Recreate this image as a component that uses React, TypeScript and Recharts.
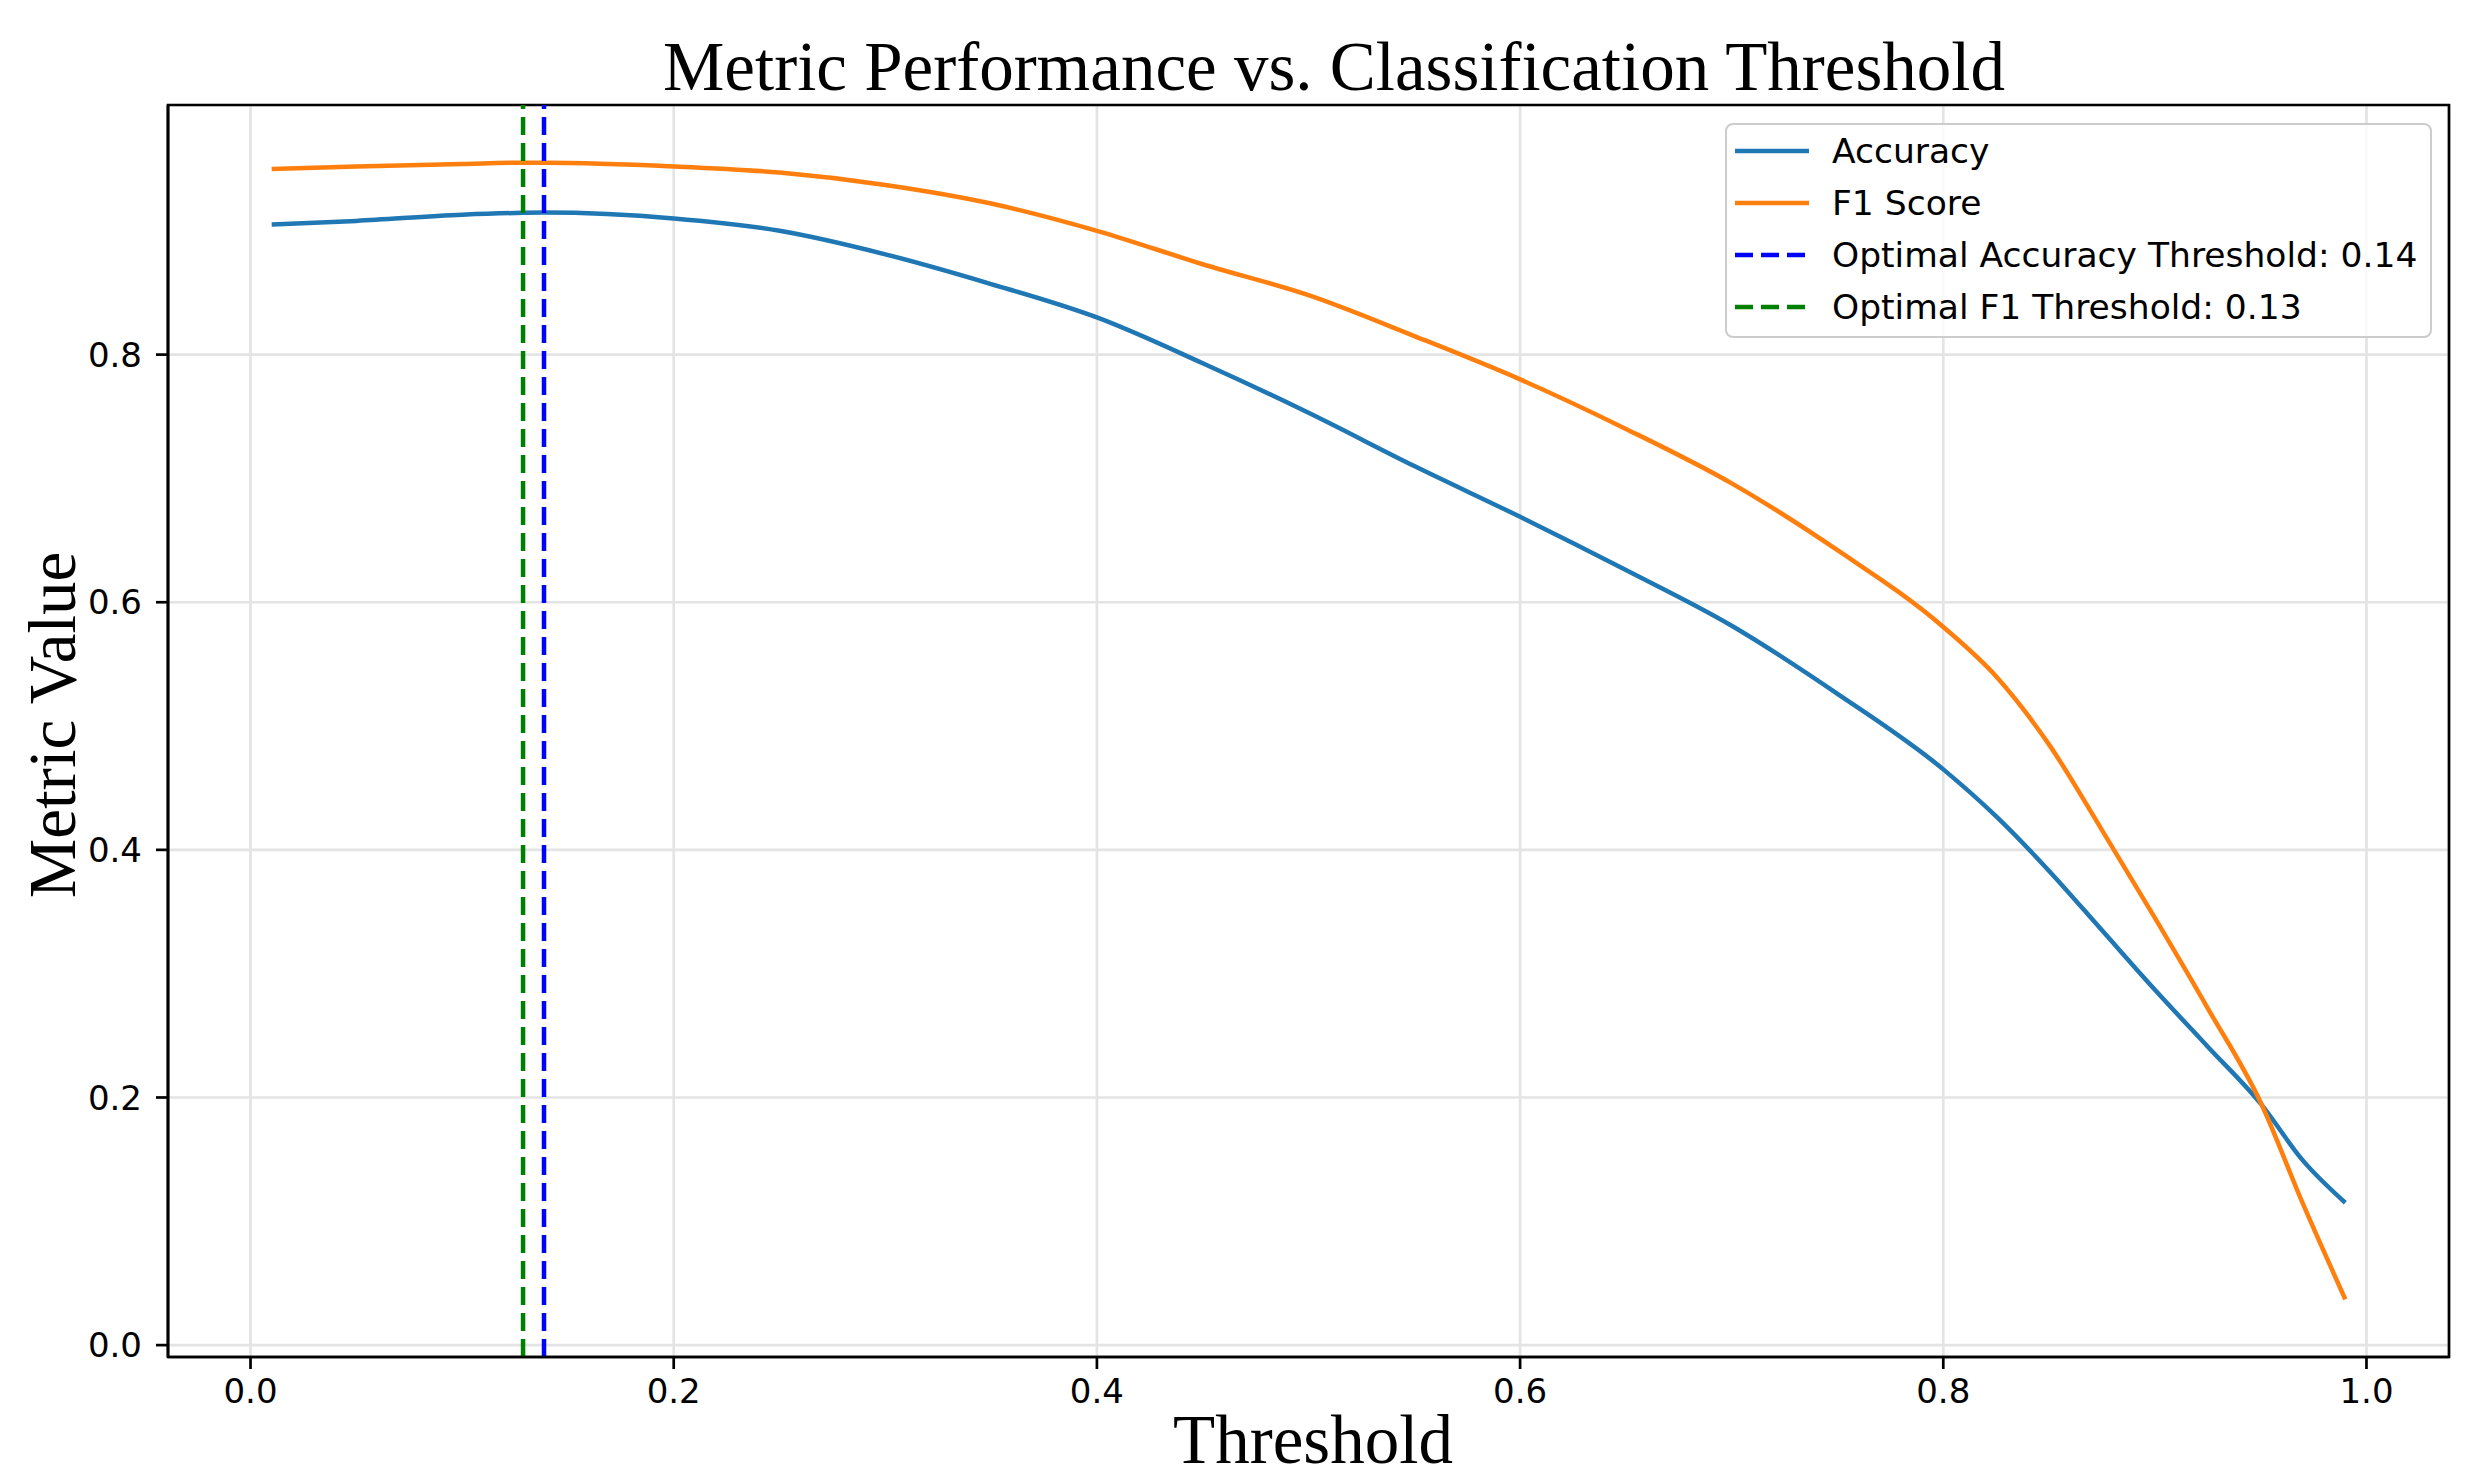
import {
  CartesianGrid,
  Line,
  LineChart,
  ReferenceArea,
  ReferenceLine,
  XAxis,
  YAxis,
} from "recharts";

// Values (threshold sweep of a binary classifier).
const THRESHOLDS = [
  0.01, 0.05, 0.1, 0.1288, 0.1387, 0.2, 0.25, 0.3, 0.35, 0.4, 0.45, 0.5, 0.55,
  0.6, 0.65, 0.7, 0.75, 0.8, 0.825, 0.85, 0.875, 0.9, 0.925, 0.95, 0.97, 0.99,
];
const ACCURACY = [
  0.905, 0.908, 0.913, 0.9145, 0.9147, 0.91, 0.9, 0.881, 0.857, 0.83, 0.793,
  0.753, 0.71, 0.669, 0.626, 0.581, 0.526, 0.465, 0.427, 0.383, 0.335, 0.287,
  0.241, 0.195, 0.149, 0.115,
];
const F1_SCORE = [
  0.95, 0.952, 0.954, 0.955, 0.955, 0.952, 0.947, 0.937, 0.922, 0.9, 0.873,
  0.848, 0.815, 0.78, 0.74, 0.696, 0.642, 0.58, 0.54, 0.485, 0.416, 0.345,
  0.272, 0.196, 0.114, 0.037,
];

// the plotted thresholds; the legend shows them rounded to 2 places
const BEST_ACCURACY_THRESHOLD = 0.1387;
const BEST_F1_THRESHOLD = 0.1288;

const X_TICKS = [0, 0.2, 0.4, 0.6, 0.8, 1.0];
const Y_TICKS = [0, 0.2, 0.4, 0.6, 0.8];
const X_DOMAIN = [-0.039, 1.039];
const Y_DOMAIN = [-0.0096, 1.0016];

const ACC_COLOUR = "#1f77b4";
const F1_COLOUR = "#ff7f0e";
const ACC_LINE_COLOUR = "#0000ff";
const F1_LINE_COLOUR = "#008000";

const LEGEND_ITEMS = [
  { label: "Accuracy", color: ACC_COLOUR, dashed: false },
  { label: "F1 Score", color: F1_COLOUR, dashed: false },
  {
    label: `Optimal Accuracy Threshold: ${BEST_ACCURACY_THRESHOLD.toFixed(2)}`,
    color: ACC_LINE_COLOUR,
    dashed: true,
  },
  {
    label: `Optimal F1 Threshold: ${BEST_F1_THRESHOLD.toFixed(2)}`,
    color: F1_LINE_COLOUR,
    dashed: true,
  },
];

const data = THRESHOLDS.map((t, i) => ({
  threshold: t,
  accuracy: ACCURACY[i],
  f1: F1_SCORE[i],
}));

const W = 2466;
const H = 1479;
const SANS = "'DejaVu Sans', sans-serif";
const SERIF = "'Liberation Serif', serif";
const DASH = "18 8";

function ChartLegend() {
  return (
    <div
      style={{
        position: "absolute",
        left: 1725,
        top: 123,
        width: 707,
        height: 215,
        boxSizing: "border-box",
        border: "2.5px solid #cccccc",
        borderRadius: 8,
        background: "rgba(255,255,255,0.8)",
        padding: "0 8px",
        fontFamily: SANS,
        fontSize: 34.5,
        color: "#000",
      }}
    >
      {LEGEND_ITEMS.map((item) => (
        <div
          key={item.label}
          style={{ display: "flex", alignItems: "center", height: 52 }}
        >
          <svg width={74} height={10} style={{ marginRight: 23 }}>
            <line
              x1={0}
              y1={5}
              x2={74}
              y2={5}
              stroke={item.color}
              strokeWidth={4.5}
              strokeDasharray={item.dashed ? DASH : undefined}
            />
          </svg>
          <span style={{ whiteSpace: "nowrap" }}>{item.label}</span>
        </div>
      ))}
    </div>
  );
}

export default function App() {
  return (
    <div
      style={{
        position: "absolute",
        left: 0,
        top: 0,
        width: W,
        height: H,
        background: "#fff",
      }}
    >
      <LineChart
        width={W}
        height={H}
        data={data}
        margin={{ top: 105, right: 17, bottom: 0, left: 0 }}
      >
        <CartesianGrid stroke="#e4e4e4" strokeWidth={2.7} />
        <XAxis
          dataKey="threshold"
          type="number"
          domain={X_DOMAIN}
          ticks={X_TICKS}
          tickFormatter={(v) => v.toFixed(1)}
          height={122}
          tickSize={12}
          tickMargin={10}
          axisLine={{ stroke: "#000", strokeWidth: 2.7 }}
          tickLine={{ stroke: "#000", strokeWidth: 2.7 }}
          tick={{ fill: "#000", fontSize: 34, fontFamily: SANS }}
        />
        <YAxis
          type="number"
          domain={Y_DOMAIN}
          ticks={Y_TICKS}
          tickFormatter={(v) => v.toFixed(1)}
          width={168}
          tickSize={12}
          tickMargin={14}
          axisLine={{ stroke: "#000", strokeWidth: 2.7 }}
          tickLine={{ stroke: "#000", strokeWidth: 2.7 }}
          tick={{ fill: "#000", fontSize: 34, fontFamily: SANS }}
        />
        <ReferenceArea
          x1={X_DOMAIN[0]}
          x2={X_DOMAIN[1]}
          y1={Y_DOMAIN[0]}
          y2={Y_DOMAIN[1]}
          fill="none"
          stroke="#000"
          strokeWidth={2.7}
        />
        <Line
          type="monotone"
          dataKey="accuracy"
          stroke={ACC_COLOUR}
          strokeWidth={4.5}
          dot={false}
          isAnimationActive={false}
        />
        <Line
          type="monotone"
          dataKey="f1"
          stroke={F1_COLOUR}
          strokeWidth={4.5}
          dot={false}
          isAnimationActive={false}
        />
        <ReferenceLine
          x={BEST_ACCURACY_THRESHOLD}
          stroke={ACC_LINE_COLOUR}
          strokeWidth={4.5}
          strokeDasharray={DASH}
        />
        <ReferenceLine
          x={BEST_F1_THRESHOLD}
          stroke={F1_LINE_COLOUR}
          strokeWidth={4.5}
          strokeDasharray={DASH}
        />
      </LineChart>

      <svg
        width={W}
        height={H}
        style={{ position: "absolute", left: 0, top: 0, pointerEvents: "none" }}
      >
        <text
          x={1334}
          y={90}
          textAnchor="middle"
          fontFamily={SERIF}
          fontSize={69}
          fill="#000"
        >
          Metric Performance vs. Classification Threshold
        </text>
        <text
          x={1313}
          y={1463}
          textAnchor="middle"
          fontFamily={SERIF}
          fontSize={69}
          fill="#000"
        >
          Threshold
        </text>
        <text
          x={75}
          y={725}
          textAnchor="middle"
          transform="rotate(-90, 75, 725)"
          fontFamily={SERIF}
          fontSize={67}
          fill="#000"
        >
          Metric Value
        </text>
      </svg>

      <ChartLegend />
    </div>
  );
}
